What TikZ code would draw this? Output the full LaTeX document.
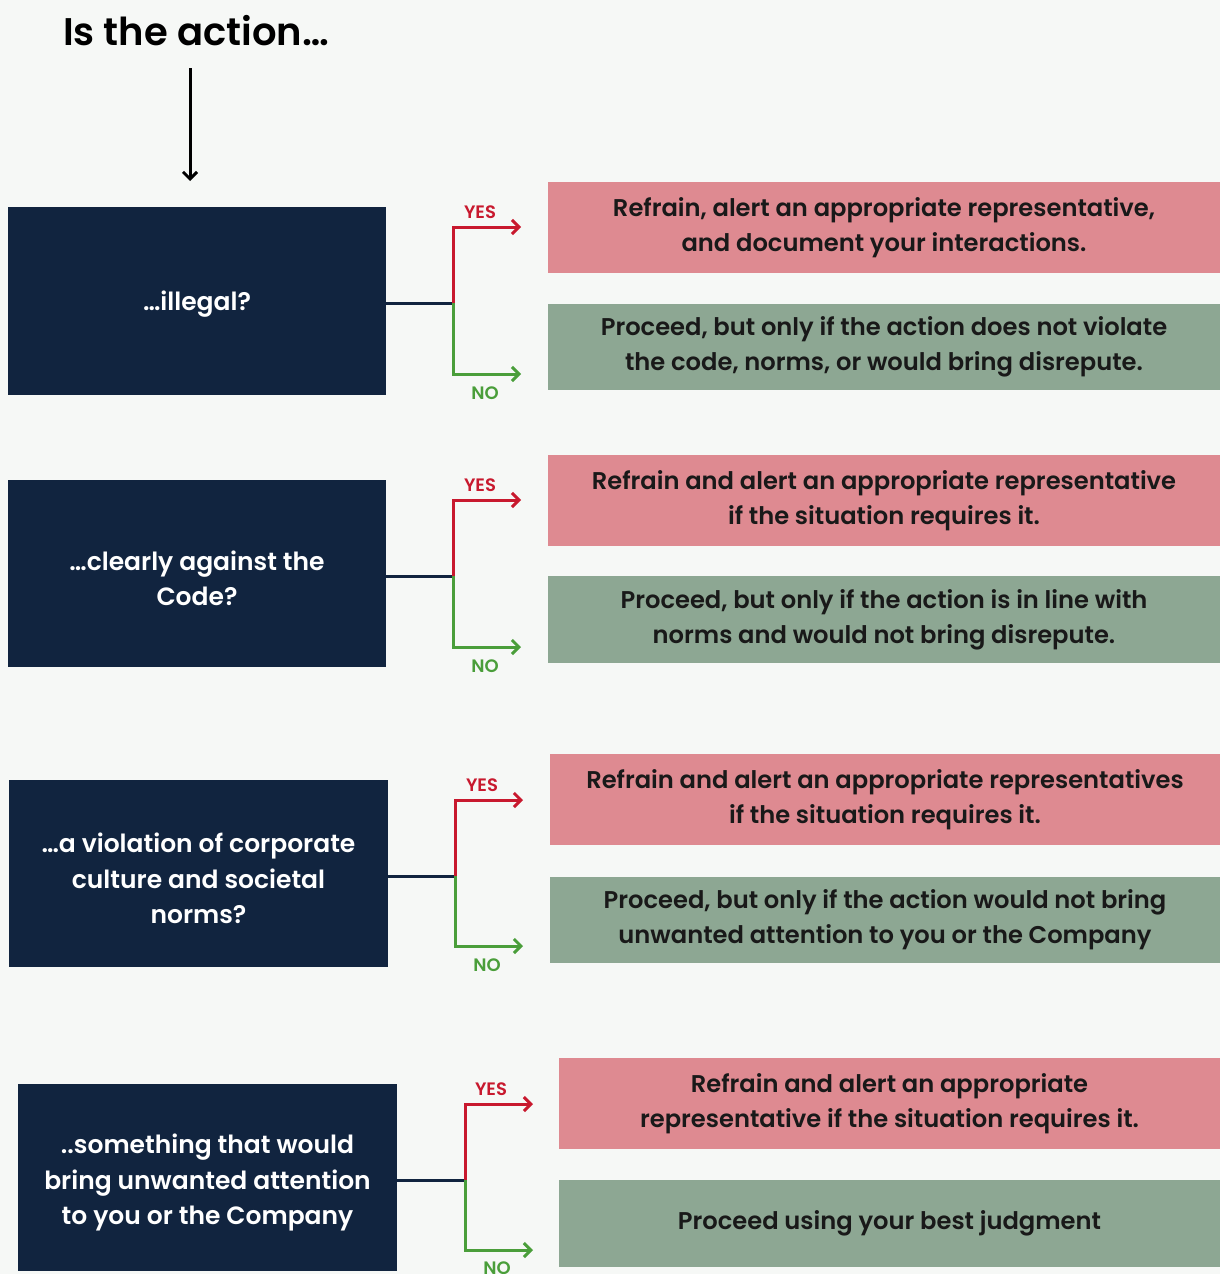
\documentclass[tikz,border=0pt]{standalone}
\usepackage{fontspec}
\usetikzlibrary{arrows.meta}
\IfFontExistsTF{Poppins SemiBold}{\newfontfamily\qfont{Poppins SemiBold}}{\newfontfamily\qfont{Poppins}[UprightFont=*-Bold]}
\IfFontExistsTF{Poppins SemiBold}{\newfontfamily\afont{Poppins SemiBold}}{\newfontfamily\afont{Poppins}}
\definecolor{bg}{HTML}{F6F8F6}
\definecolor{navy}{HTML}{11243F}
\definecolor{redbox}{HTML}{DE8A91}
\definecolor{greenbox}{HTML}{8DA793}
\definecolor{redline}{HTML}{C8192E}
\definecolor{greenline}{HTML}{4A9E3A}
\begin{document}
\begin{tikzpicture}[x=1pt,y=-1pt,
  qbox/.style={fill=navy,inner sep=0pt,minimum width=378pt,minimum height=188pt},
  qtext/.style={text=white,inner sep=0pt,align=center,font=\qfont\fontsize{25}{35.5}\selectfont},
  abox/.style={inner sep=0pt,minimum width=672pt,align=center,text=black!90,
    font=\afont\fontsize{24.2}{35}\selectfont},
  yesbox/.style={abox,fill=redbox,minimum height=91pt},
  nobox/.style={abox,fill=greenbox,minimum height=87pt},
  stem/.style={navy,line width=3pt},
  yesline/.style={redline,line width=3pt,-{Straight Barb[length=7pt,width=14pt,line width=3pt]}},
  noline/.style={greenline,line width=3pt,-{Straight Barb[length=7pt,width=14pt,line width=3pt]}},
  yeslab/.style={text=redline,font=\qfont\fontsize{18}{18}\selectfont,inner sep=0pt},
  nolab/.style={text=greenline,font=\qfont\fontsize{18}{18}\selectfont,inner sep=0pt}
]
\fill[bg] (0,0) rectangle (1220,1274);
\useasboundingbox (0,0) rectangle (1220,1274);

\node[font=\qfont\fontsize{38.5}{42}\selectfont,text=black,inner sep=0pt] (title) at (196,31) {Is the action…};
\coordinate (ta) at (190,68);
\coordinate (tb) at (190,181);
\draw[black,line width=3pt,-{Straight Barb[length=7pt,width=14pt,line width=3pt]}] (ta) -- (tb);

% Block 1
\node[qbox] (q1) at (197,301) {};
\node[qtext] (q1t) at ([yshift=-3pt]q1.center) {…illegal?};
\node[yesbox] (y1box) at (884,227.5) {Refrain, alert an appropriate representative,\\and document your interactions.};
\node[nobox,minimum height=86pt] (n1box) at (884,347) {Proceed, but only if the action does not violate\\the code, norms, or would bring disrepute.};
\coordinate (s1) at (453,303);
\coordinate (ye1) at (521,227);
\coordinate (ne1) at (521,374);
\draw[stem] (q1.east |- s1) -- (s1);
\draw[yesline] (s1) |- (ye1);
\draw[noline] (s1) |- (ne1);
\node[yeslab] (yl1) at (480,212) {YES};
\node[nolab] (nl1) at (485,393) {NO};

% Block 2
\node[qbox,minimum height=187pt] (q2) at (197,573.5) {};
\node[qtext] (q2t) at ([yshift=-5pt]q2.center) {…clearly against the\\Code?};
\node[yesbox] (y2box) at (884,500.5) {Refrain and alert an appropriate representative\\if the situation requires it.};
\node[nobox] (n2box) at (884,619.5) {Proceed, but only if the action is in line with\\norms and would not bring disrepute.};
\coordinate (s2) at (453,576);
\coordinate (ye2) at (521,500);
\coordinate (ne2) at (521,647);
\draw[stem] (q2.east |- s2) -- (s2);
\draw[yesline] (s2) |- (ye2);
\draw[noline] (s2) |- (ne2);
\node[yeslab] (yl2) at (480,485) {YES};
\node[nolab] (nl2) at (485,666) {NO};

% Block 3
\node[qbox,minimum width=379pt,minimum height=187pt] (q3) at (198.5,873.5) {};
\node[qtext] (q3t) at ([yshift=-5pt]q3.center) {…a violation of corporate\\culture and societal\\norms?};
\node[yesbox,minimum width=670pt] (y3box) at (885,799.5) {Refrain and alert an appropriate representatives\\if the situation requires it.};
\node[nobox,minimum width=670pt,minimum height=86pt] (n3box) at (885,920) {Proceed, but only if the action would not bring\\unwanted attention to you or the Company};
\coordinate (s3) at (455,876);
\coordinate (ye3) at (523,800);
\coordinate (ne3) at (523,946);
\draw[stem] (q3.east |- s3) -- (s3);
\draw[yesline] (s3) |- (ye3);
\draw[noline] (s3) |- (ne3);
\node[yeslab] (yl3) at (482,785) {YES};
\node[nolab] (nl3) at (487,965) {NO};

% Block 4
\node[qbox,minimum width=379pt,minimum height=187pt] (q4) at (207.5,1177.5) {};
\node[qtext] (q4t) at ([yshift=-5pt]q4.center) {..something that would\\bring unwanted attention\\to you or the Company};
\node[yesbox,minimum width=661pt] (y4box) at (889.5,1103.5) {Refrain and alert an appropriate\\representative if the situation requires it.};
\node[nobox,minimum width=661pt] (n4box) at (889.5,1223.5) {Proceed using your best judgment};
\coordinate (s4) at (465,1180);
\coordinate (ye4) at (533,1104);
\coordinate (ne4) at (533,1250);
\draw[stem] (q4.east |- s4) -- (s4);
\draw[yesline] (s4) |- (ye4);
\draw[noline] (s4) |- (ne4);
\node[yeslab] (yl4) at (491,1089) {YES};
\node[nolab] (nl4) at (497,1268) {NO};
\end{tikzpicture}
\end{document}
